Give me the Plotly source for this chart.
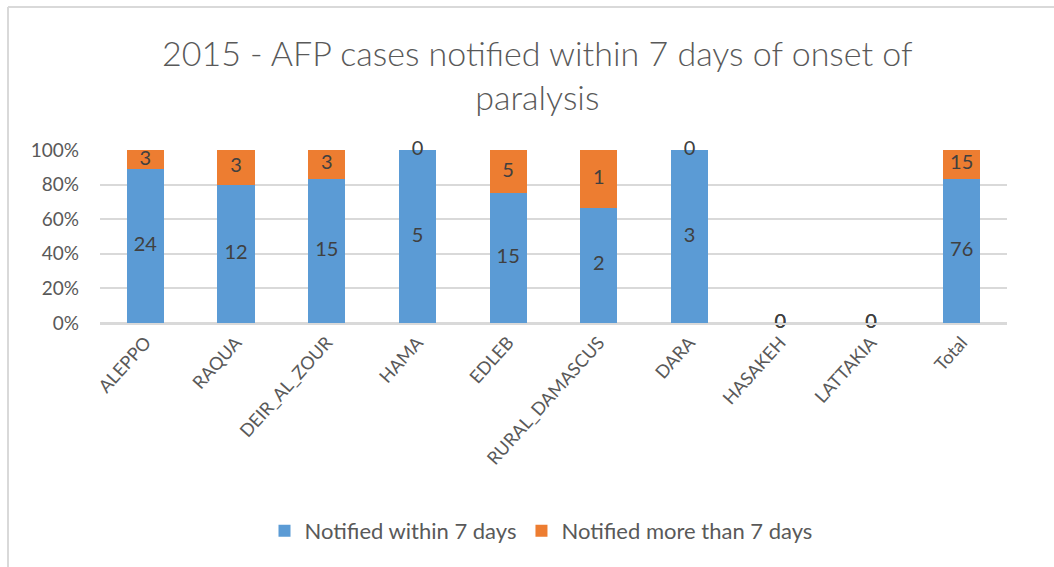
import plotly.graph_objects as go

categories = ["ALEPPO", "RAQUA", "DEIR_AL_ZOUR", "HAMA", "EDLEB", "RURAL_DAMASCUS",
              "DARA", "HASAKEH", "LATTAKIA", "Total"]
within_7 = [24, 12, 15, 5, 15, 2, 3, 0, 0, 76]
more_7 = [3, 3, 3, 0, 5, 1, 0, 0, 0, 15]

series_names = ["Notified within 7 days", "Notified more than 7 days"]
colors = ["#5B9BD5", "#ED7D31"]
title_text = "2015 - AFP cases notified within 7 days of onset of<br>paralysis"

totals = [a + b for a, b in zip(within_7, more_7)]
p_within = [a / t if t else 0 for a, t in zip(within_7, totals)]
p_more = [b / t if t else 0 for b, t in zip(more_7, totals)]

FONT = "Lato"
TXT = "#595959"

fig = go.Figure()
fig.add_trace(go.Bar(x=categories, y=p_within, name=series_names[0],
                     marker=dict(color=colors[0], line=dict(width=0))))
fig.add_trace(go.Bar(x=categories, y=p_more, name=series_names[1],
                     marker=dict(color=colors[1], line=dict(width=0))))

# data labels at segment centres
mid_within = [p / 2 for p in p_within]
mid_more = [pw + pm / 2 for pw, pm in zip(p_within, p_more)]
fig.add_trace(go.Scatter(x=categories, y=mid_within, mode="text",
                         text=[str(v) for v in within_7], showlegend=False,
                         textfont=dict(family=FONT, size=20, color="#404040"),
                         hoverinfo="skip", cliponaxis=False))
fig.add_trace(go.Scatter(x=categories, y=mid_more, mode="text",
                         text=[str(v) for v in more_7], showlegend=False,
                         textfont=dict(family=FONT, size=20, color="#404040"),
                         hoverinfo="skip", cliponaxis=False))

fig.update_layout(
    barmode="stack",
    bargap=0.59,
    width=1054, height=567,
    paper_bgcolor="white", plot_bgcolor="white",
    margin=dict(l=100, r=47, t=150, b=244, autoexpand=False),
    font=dict(family=FONT, color=TXT),
    legend=dict(orientation="h", x=(541 - 100) / 907, xanchor="center", xref="paper",
                y=1 - 531 / 567, yanchor="middle", yref="container",
                font=dict(family=FONT, size=22, color=TXT),
                itemsizing="constant", traceorder="normal", itemwidth=30),
    showlegend=True,
)
fig.add_annotation(text=title_text, xref="paper", yref="paper",
                   x=(537 - 100) / 907, y=1 + (150 - 74.5) / 173,
                   xanchor="center", yanchor="middle", showarrow=False,
                   font=dict(family=FONT, size=34, color=TXT, weight=300))
fig.update_yaxes(range=[0, 1.0], tickformat=".0%", tickvals=[0, 0.2, 0.4, 0.6, 0.8, 1.0],
                 showgrid=True, gridcolor="#D9D9D9", gridwidth=1.5,
                 zeroline=True, zerolinecolor="#D9D9D9", zerolinewidth=2,
                 tickfont=dict(family=FONT, size=19, color=TXT), ticks="",
                 showline=False, ticklabelstandoff=20)
fig.update_xaxes(tickangle=-48, tickfont=dict(family=FONT, size=18, color=TXT),
                 showline=True, linecolor="#D9D9D9", linewidth=2, ticks="",
                 showgrid=False)

# outer chart frame (top and left edges visible)
fig.add_shape(type="line", xref="paper", yref="paper",
              x0=-92 / 907, x1=1.1, y0=1 + 143 / 173, y1=1 + 143 / 173,
              line=dict(color="#D9D9D9", width=2))
fig.add_shape(type="line", xref="paper", yref="paper",
              x0=-92 / 907, x1=-92 / 907, y0=1 + 143 / 173, y1=-1.5,
              line=dict(color="#D9D9D9", width=2))

fig.write_html("out.html", config={"displayModeBar": False},
               post_script="document.body.style.margin='0';document.body.style.overflow='hidden';")
